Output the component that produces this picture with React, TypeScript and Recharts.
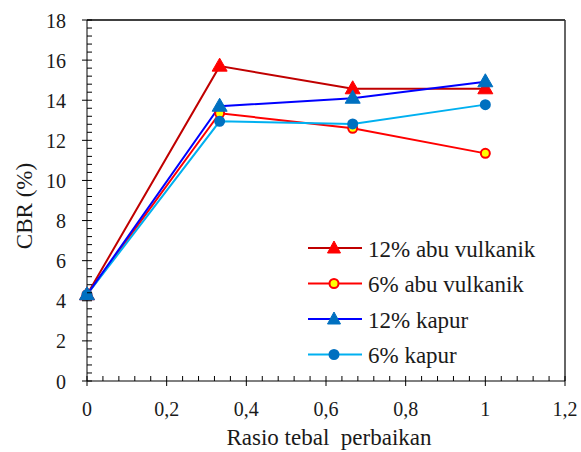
import { LineChart, Line, XAxis, YAxis, ReferenceLine } from "recharts";

const xValues = [0, 0.333, 0.667, 1];
const abu12 = [4.3, 15.7, 14.57, 14.57];
const abu6 = [4.3, 13.35, 12.6, 11.35];
const kapur12 = [4.3, 13.7, 14.1, 14.92];
const kapur6 = [4.3, 12.95, 12.82, 13.78];

const xTicks = [0, 0.2, 0.4, 0.6, 0.8, 1, 1.2];
const yTicks = [0, 2, 4, 6, 8, 10, 12, 14, 16, 18];

const series = [
  { key: "abu12", name: "12% abu vulkanik", line: "#C00000", marker: "triangle", fill: "#FF0000", stroke: "#FF0000" },
  { key: "abu6", name: "6% abu vulkanik", line: "#FF0000", marker: "circle", fill: "#FFFF00", stroke: "#FF0000" },
  { key: "kapur6", name: "6% kapur", line: "#00B0F0", marker: "circle", fill: "#0070C0", stroke: "#0070C0" },
  { key: "kapur12", name: "12% kapur", line: "#0000FF", marker: "triangle", fill: "#0070C0", stroke: "#0070C0" },
];
const legendOrder = ["abu12", "abu6", "kapur12", "kapur6"];

const data = xValues.map((x, i) => ({
  x,
  abu12: abu12[i],
  abu6: abu6[i],
  kapur12: kapur12[i],
  kapur6: kapur6[i],
}));

// major ticks plus 4 minor ticks between each pair
const withMinor = (major: number[]) => {
  const out: number[] = [];
  for (let i = 0; i < major.length - 1; i++) {
    const step = (major[i + 1] - major[i]) / 5;
    for (let j = 0; j < 5; j++) out.push(+(major[i] + step * j).toFixed(4));
  }
  out.push(major[major.length - 1]);
  return out;
};
const isMajor = (v: number, major: number[]) => major.some((m) => Math.abs(m - v) < 1e-6);

const serif = '"Liberation Serif", "Times New Roman", serif';
const tickTxt = { fontFamily: serif, fontSize: 20, fill: "#1a1a1a" };
const bigTxt = { fontFamily: serif, fontSize: 23, fill: "#1a1a1a" };

const XTick = (props: any) => {
  const { x, y, payload } = props;
  const major = isMajor(payload.value, xTicks);
  return (
    <g>
      <line x1={x} x2={x} y1={y - 5} y2={major ? y + 5 : y} stroke="#000" strokeWidth={1} />
      {major && (
        <text x={x} y={y + 35} textAnchor="middle" style={tickTxt}>
          {String(payload.value).replace(".", ",")}
        </text>
      )}
    </g>
  );
};

const YTick = (props: any) => {
  const { x, y, payload } = props;
  const major = isMajor(payload.value, yTicks);
  return (
    <g>
      <line x1={major ? x - 5 : x} x2={x + 5} y1={y} y2={y} stroke="#000" strokeWidth={1} />
      {major && (
        <text x={x - 21} y={y + 7.5} textAnchor="end" style={tickTxt}>
          {payload.value}
        </text>
      )}
    </g>
  );
};

const Marker = ({ cx, cy, s, small }: any) => {
  if (cx == null || cy == null) return null;
  if (s.marker === "triangle") {
    const w = small ? 6.5 : 7.5;
    return (
      <polygon
        points={`${cx},${cy - (small ? 7 : 8)} ${cx - w},${cy + 5} ${cx + w},${cy + 5}`}
        fill={s.fill}
        stroke={s.stroke}
      />
    );
  }
  return <circle cx={cx} cy={cy} r={4.5} fill={s.fill} stroke={s.stroke} strokeWidth={2} />;
};

export default function App() {
  return (
    <div style={{ position: "absolute", left: 0, top: 0, background: "#fff" }}>
      <LineChart width={581} height={452} data={data} margin={{ top: 20, right: 16, left: 0, bottom: 0 }}>
        <XAxis
          dataKey="x"
          type="number"
          domain={[0, 1.2]}
          ticks={withMinor(xTicks)}
          interval={0}
          height={71}
          tickSize={0}
          tickMargin={0}
          tickLine={false}
          axisLine={{ stroke: "#000" }}
          tick={XTick}
        />
        <YAxis
          type="number"
          domain={[0, 18]}
          ticks={withMinor(yTicks)}
          interval={0}
          width={87}
          tickSize={0}
          tickMargin={0}
          tickLine={false}
          axisLine={{ stroke: "#000" }}
          tick={YTick}
        />
        <ReferenceLine y={18} stroke="#000" strokeWidth={1.5} />
        <ReferenceLine x={1.2} stroke="#333" strokeWidth={1.5} />
        {series.map((s) => (
          <Line
            key={s.key}
            dataKey={s.key}
            name={s.name}
            stroke={s.line}
            strokeWidth={2}
            isAnimationActive={false}
            dot={(p: any) => <Marker key={`${s.key}-${p.index}`} cx={p.cx} cy={p.cy} s={s} />}
          />
        ))}
        <g transform="translate(308,232)">
          {legendOrder.map((k, i) => {
            const s = series.find((e) => e.key === k)!;
            const y = 16 + i * 35.5;
            return (
              <g key={k}>
                <line x1={0} x2={54} y1={y} y2={y} stroke={s.line} strokeWidth={2} />
                <Marker cx={26} cy={y} s={s} small />
                <text x={60} y={y + 8.5} style={bigTxt}>
                  {s.name}
                </text>
              </g>
            );
          })}
        </g>
        <text x={329} y={445} textAnchor="middle" style={{ ...bigTxt, whiteSpace: "pre" }}>
          Rasio tebal  perbaikan
        </text>
        <text x={0} y={0} transform="translate(32,206) rotate(-90)" textAnchor="middle" style={bigTxt}>
          CBR (%)
        </text>
      </LineChart>
    </div>
  );
}
